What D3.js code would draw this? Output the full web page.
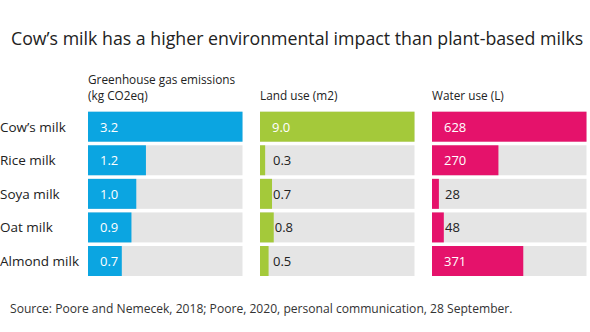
<!DOCTYPE html>
<html>
<head>
<meta charset="utf-8">
<script src="https://cdn.jsdelivr.net/npm/d3@7"></script>
<style>
  body { margin: 0; background: #fff; }
  svg { display: block; font-family: "Open Sans", "Noto Sans", sans-serif; }
</style>
</head>
<body>
<svg id="chart" width="590" height="332"></svg>
<script>
const categories = ['Cow’s milk', 'Rice milk', 'Soya milk', 'Oat milk', 'Almond milk'];
const ghgValues = [3.2, 1.2, 1.0, 0.9, 0.7];
const landValues = [9.0, 0.3, 0.7, 0.8, 0.5];
const waterValues = [628, 270, 28, 48, 371];
const panelTitles = [['Greenhouse gas emissions', '(kg CO2eq)'], ['Land use (m2)'], ['Water use (L)']];

const panels = [
  { title: panelTitles[0], values: ghgValues, color: '#0ba5e1', fmt: d3.format('.1f'), x0: 88 },
  { title: panelTitles[1], values: landValues, color: '#a4c93a', fmt: d3.format('.1f'), x0: 260 },
  { title: panelTitles[2], values: waterValues, color: '#e5126b', fmt: d3.format('d'), x0: 432 },
];
const panelWidth = 154.5;

const svg = d3.select('#chart');

// title
svg.append('text')
  .attr('x', 11)
  .attr('y', 45)
  .attr('font-size', '17.75px')
  .attr('fill', '#222')
  .text('Cow’s milk has a higher environmental impact than plant-based milks');

const y = d3.scaleBand()
  .domain(categories)
  .range([111.7, 276])
  .paddingInner(0.107);

// row labels
svg.append('g')
  .selectAll('text')
  .data(categories)
  .join('text')
  .attr('x', 0)
  .attr('y', (d) => y(d) + y.bandwidth() / 2)
  .attr('dominant-baseline', 'central')
  .attr('font-size', '13.5px')
  .attr('fill', '#222')
  .text((d) => d);

panels.forEach((p) => {
  const x = d3.scaleLinear()
    .domain([0, d3.max(p.values)])
    .range([p.x0, p.x0 + panelWidth]);

  const g = svg.append('g');

  // header
  const lines = p.title;
  g.selectAll('text.head')
    .data(lines)
    .join('text')
    .attr('class', 'head')
    .attr('x', p.x0)
    .attr('y', (d, i) => 100 - (lines.length - 1 - i) * 16)
    .attr('font-size', '11.8px')
    .attr('fill', '#222')
    .text((d) => d);

  const rows = categories.map((c, i) => ({ cat: c, value: p.values[i] }));
  const inside = (d) => x(d.value) - x(0) > 25;

  // grey track
  g.selectAll('rect.bg')
    .data(rows)
    .join('rect')
    .attr('class', 'bg')
    .attr('x', x(0))
    .attr('y', (d) => y(d.cat))
    .attr('width', panelWidth)
    .attr('height', y.bandwidth())
    .attr('fill', '#e5e5e5');

  g.selectAll('rect.bar')
    .data(rows)
    .join('rect')
    .attr('class', 'bar')
    .attr('x', x(0))
    .attr('y', (d) => y(d.cat))
    .attr('width', (d) => x(d.value) - x(0))
    .attr('height', y.bandwidth())
    .attr('fill', p.color);

  // value labels: white inside wide bars, dark just past thin ones
  g.selectAll('text.val')
    .data(rows)
    .join('text')
    .attr('class', 'val')
    .attr('x', (d) => (inside(d) ? x(0) + 12 : Math.max(x(0) + 13, x(d.value) + 1)))
    .attr('y', (d) => y(d.cat) + y.bandwidth() / 2)
    .attr('dominant-baseline', 'central')
    .attr('font-size', '13px')
    .attr('fill', (d) => (inside(d) ? '#fff' : '#222'))
    .text((d) => p.fmt(d.value));
});

// source
svg.append('text')
  .attr('x', 10)
  .attr('y', 313)
  .attr('font-size', '12.1px')
  .attr('fill', '#333')
  .text('Source: Poore and Nemecek, 2018; Poore, 2020, personal communication, 28 September.');
</script>
</body>
</html>
